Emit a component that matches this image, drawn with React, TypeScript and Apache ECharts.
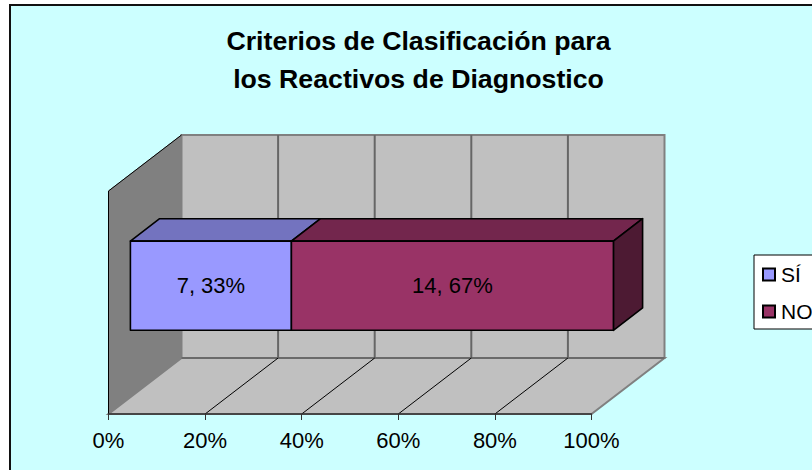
import React, { useEffect, useRef } from "react";
import * as echarts from "echarts";

const titleLines = ["Criterios de Clasificación para", "los Reactivos de Diagnostico"];
const categories = ["Reactivos"];
const seriesNames = ["SÍ", "NO"];
const counts = [7, 14];
const tickValues = [0, 20, 40, 60, 80, 100];

const faceColors = ["#9999ff", "#993366"];
const topColors = ["#7373bf", "#73264d"];
const sideColors = ["#4d4d80", "#4d1a33"];
const FONT = "Liberation Sans";
const DEPTH_X = 73;
const DEPTH_Y = 56;

const total = counts.reduce((a, b) => a + b, 0);

function stackedRows() {
  let acc = 0;
  return counts.map((c) => {
    const start = (acc / total) * 100;
    acc += c;
    return [start, (acc / total) * 100, c, Math.round((c / total) * 100), 0];
  });
}

const renderWalls = (params: any) => {
  const c = params.coordSys;
  const l = c.x, t = c.y, r = c.x + c.width, b = c.y + c.height;
  const dx = DEPTH_X, dy = DEPTH_Y;
  const edge = { stroke: "#808080", lineWidth: 2 };
  return {
    type: "group",
    children: [
      { type: "polygon", shape: { points: [[l, b], [l, t], [l + dx, t - dy], [l + dx, b - dy]] }, style: { fill: "#808080", stroke: "#808080", lineWidth: 1 } },
      { type: "polygon", shape: { points: [[l + dx, t - dy], [r + dx, t - dy], [r + dx, b - dy], [l + dx, b - dy]] }, style: { fill: "#c0c0c0", ...edge } },
      { type: "polygon", shape: { points: [[l, b], [r, b], [r + dx, b - dy], [l + dx, b - dy]] }, style: { fill: "#c0c0c0", ...edge } },
      { type: "line", shape: { x1: l + dx, y1: b - dy, x2: r + dx, y2: b - dy }, style: { stroke: "#6a6a6a", lineWidth: 2 } },
      { type: "polyline", shape: { points: [[l, b], [l, t], [l + dx, t - dy]] }, style: { fill: "none", stroke: "#000", lineWidth: 1 } },
    ],
  };
};

const renderGrid = (params: any, api: any) => {
  const c = params.coordSys;
  const v = api.value(0);
  const b = c.y + c.height;
  const x = api.coord([v, 0])[0];
  const children: any[] = [];
  if (v > 0 && v < 100) {
    children.push({ type: "line", shape: { x1: x + DEPTH_X, y1: c.y - DEPTH_Y, x2: x + DEPTH_X, y2: b - DEPTH_Y }, style: { stroke: "#666666", lineWidth: 2 } });
    children.push({ type: "line", shape: { x1: x, y1: b, x2: x + DEPTH_X, y2: b - DEPTH_Y }, style: { stroke: "#000", lineWidth: 1 } });
  }
  return { type: "group", children };
};

const makeRenderBar = (idx: number) => (params: any, api: any) => {
  const p0 = api.coord([api.value(0), api.value(4)]);
  const p1 = api.coord([api.value(1), api.value(4)]);
  const h = api.size([0, 1])[1] * 0.4;
  const fx = DEPTH_X * 0.3, fy = DEPTH_Y * 0.3;
  const bx = DEPTH_X * 0.7, by = DEPTH_Y * 0.7;
  const x0 = p0[0] + fx, x1 = p1[0] + fx;
  const top = p0[1] - fy - h / 2;
  const bottom = top + h;
  const sx = bx - fx, sy = by - fy;
  const stroke = { stroke: "#000", lineWidth: 1.6, lineJoin: "round" };
  const children: any[] = [
    { type: "polygon", shape: { points: [[x0, top], [x0 + sx, top - sy], [x1 + sx, top - sy], [x1, top]] }, style: { fill: topColors[idx], ...stroke } },
  ];
  if (idx === counts.length - 1) {
    children.push({ type: "polygon", shape: { points: [[x1, top], [x1 + sx, top - sy], [x1 + sx, bottom - sy], [x1, bottom]] }, style: { fill: sideColors[idx], ...stroke } });
  }
  children.push({ type: "rect", shape: { x: x0, y: top, width: x1 - x0, height: h }, style: { fill: faceColors[idx], ...stroke } });
  children.push({
    type: "text",
    x: (x0 + x1) / 2,
    y: (top + bottom) / 2,
    style: { text: `${api.value(2)}, ${api.value(3)}%`, fill: "#000", font: `22px "${FONT}"`, align: "center", verticalAlign: "middle" },
  });
  return { type: "group", children };
};

export default function App() {
  const ref = useRef<HTMLDivElement>(null);
  useEffect(() => {
    const chart = echarts.init(ref.current!, null, { renderer: "svg" });
    const rows = stackedRows();
    chart.setOption({
      animation: false,
      backgroundColor: "#ffffff",
      textStyle: { fontFamily: FONT },
      title: {
        text: titleLines.join("\n"),
        left: 413.5,
        top: 17,
        textAlign: "center",
        textStyle: { fontFamily: FONT, fontSize: 26.7, fontWeight: "bold", color: "#000", lineHeight: 38 },
      },
      graphic: [
        { type: "rect", z: -1, shape: { x: 10, y: 5, width: 900, height: 600 }, style: { fill: "#ccffff", stroke: "#111", lineWidth: 2 } },
      ],
      legend: {
        orient: "vertical",
        left: 754,
        top: 255,
        data: seriesNames,
        icon: "rect",
        itemWidth: 12,
        itemHeight: 12,
        itemGap: 16,
        padding: [9, 30, 7, 8],
        backgroundColor: "#ffffff",
        borderColor: "#000",
        borderWidth: 1,
        textStyle: { fontFamily: FONT, fontSize: 21, color: "#000", padding: [0, 0, 0, 1] },
      },
      grid: { left: 108.5, top: 191, width: 483, height: 223 },
      xAxis: {
        type: "value",
        min: 0,
        max: 100,
        interval: 20,
        z: 5,
        axisLine: { show: true, lineStyle: { color: "#333", width: 1.5 } },
        axisTick: { show: true, length: 6, lineStyle: { color: "#333", width: 1 } },
        axisLabel: { formatter: "{value}%", fontFamily: FONT, fontSize: 22, color: "#000", margin: 15 },
        splitLine: { show: false },
      },
      yAxis: { type: "category", data: categories, show: false },
      series: [
        { type: "custom", name: "walls", silent: true, z: 1, renderItem: renderWalls, data: [[0, 0]], encode: { x: 0, y: 1 } },
        { type: "custom", name: "grid", silent: true, z: 2, renderItem: renderGrid, data: tickValues.map((v) => [v, 0]), encode: { x: 0, y: 1 } },
        ...seriesNames.map((name, i) => ({
          type: "custom",
          name,
          z: 3,
          silent: true,
          renderItem: makeRenderBar(i),
          itemStyle: { color: faceColors[i], borderColor: "#000", borderWidth: 1.5 },
          encode: { x: [0, 1], y: 4 },
          data: [rows[i]],
        })),
      ],
    });
    return () => chart.dispose();
  }, []);
  return <div ref={ref} style={{ position: "absolute", left: 0, top: 0, width: 812, height: 470 }} />;
}
